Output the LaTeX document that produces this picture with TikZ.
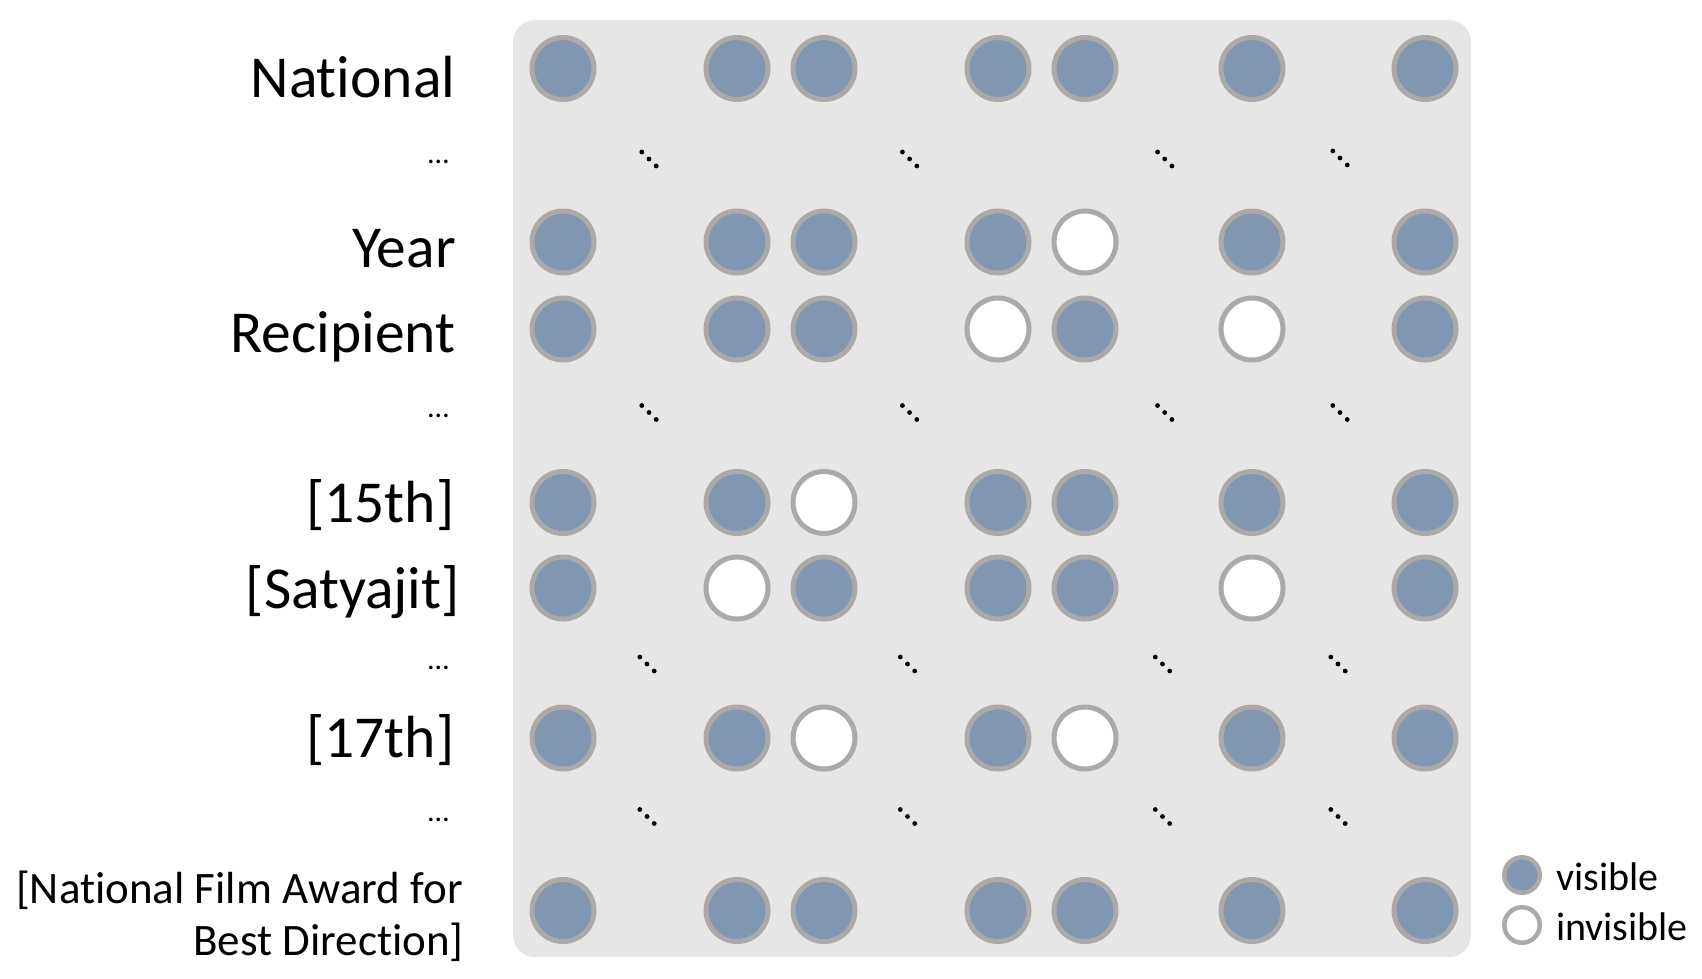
\documentclass[tikz,border=0pt]{standalone}
\usepackage{fontspec}
\setmainfont{Carlito}[Ligatures={NoCommon,NoContextual}]
\definecolor{boxgray}{RGB}{230,230,230}
\definecolor{vis}{RGB}{129,150,176}
\definecolor{ring}{RGB}{172,169,169}
\begin{document}
\begin{tikzpicture}[x=1pt,y=-1pt,
  dotv/.style={circle,draw=ring,line width=5pt,fill=vis,minimum size=62pt,inner sep=0pt},
  doti/.style={dotv,fill=white},
  legv/.style={dotv,minimum size=35.5pt,line width=4.5pt},
  legi/.style={legv,fill=white},
  lab/.style={anchor=base east,inner sep=0pt,font=\fontsize{59.5}{70}\selectfont},
  blab/.style={anchor=base east,inner sep=0pt,font=\fontsize{45}{52}\selectfont},
  ell/.style={anchor=base east,inner sep=0pt,font=\fontsize{30}{36}\selectfont},
  legtext/.style={anchor=base west,inner sep=0pt,font=\fontsize{40}{46}\selectfont}]
\useasboundingbox (0,0) rectangle (1702,978);
\fill[boxgray,rounded corners=22pt] (513,20) rectangle (1471,957);

% circles
\foreach \r/\y/\pat in {1/68.5/{v,v,v,v,v,v,v},
                        2/242/{v,v,v,v,i,v,v},
                        3/329/{v,v,v,i,v,i,v},
                        4/502.5/{v,v,i,v,v,v,v},
                        5/588/{v,i,v,v,v,i,v},
                        6/738/{v,v,i,v,i,v,v},
                        7/910.5/{v,v,v,v,v,v,v}}{
  \foreach \s [count=\c] in \pat {
    \pgfmathsetmacro\xx{{563,737,824,998,1085,1252,1425}[\c-1]}
    \node[dot\s] (n\r-\c) at (\xx,\y) {};
  }
}

% diagonal ellipses inside the box
\foreach \gx/\gy in {649/159,909.6/159,1164.7/159,1340/158,
                     649/412.5,909.6/412.5,1164.7/412.5,1340/412.5,
                     647/664,907.5/664,1162.5/664,1338/664,
                     647/816.5,907.5/816.5,1162.5/816.5,1338/816.5}{
  \fill (\gx-7.2,\gy-7) circle (2.4pt);
  \fill (\gx,\gy) circle (2.4pt);
  \fill (\gx+7.2,\gy+7) circle (2.4pt);
}

% row labels
\node[lab] (lNational) at (455.5,97.5) {National};
\node[ell] (le1) at (449,163.5) {…};
\node[lab] (lYear) at (456,267.5) {Year};
\node[lab] (lRecipient) at (455.5,352) {Recipient};
\node[ell] (le2) at (449,417) {…};
\node[lab] (l15) at (454.5,522) {[15th]};
\node[lab] (lSat) at (460,608) {[Satyajit]};
\node[ell] (le3) at (449,669) {…};
\node[lab] (l17) at (454.5,757) {[17th]};
\node[ell] (le4) at (449,821) {…};
\node[blab] (lb1) at (463,903) {[National Film Award for};
\node[blab] (lb2) at (464,955) {Best Direction]};

% legend
\node[legv] (kv) at (1522,875) {};
\node[legi] (ki) at (1522,925) {};
\node[legtext] (tv) at (1556,890) {visible};
\node[legtext] (ti) at (1556,940) {invisible};
\end{tikzpicture}
\end{document}
